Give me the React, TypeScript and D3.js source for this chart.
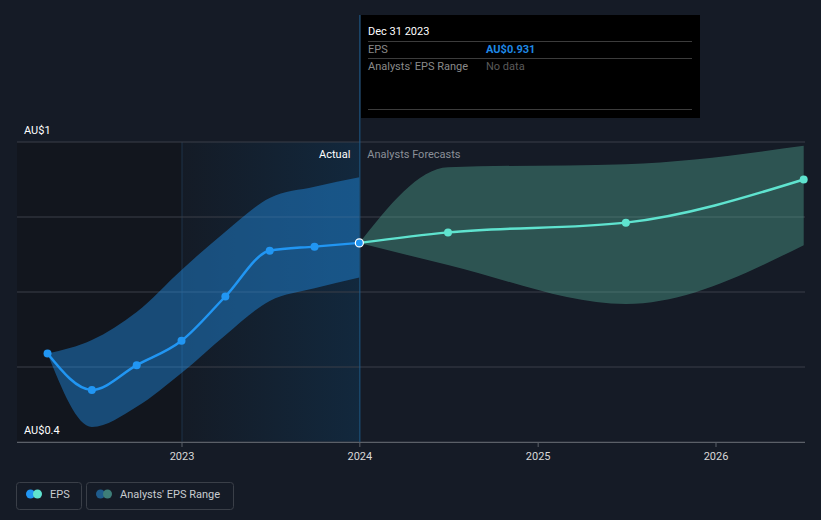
import React from 'react';
import * as d3 from 'd3';

// Reported EPS (half-year points, AUD)
const actualDates = ['2022-03-31', '2022-06-30', '2022-09-30', '2022-12-31', '2023-03-31', '2023-06-30', '2023-09-30', '2023-12-31'];
const actualEps = [0.636, 0.539, 0.605, 0.67, 0.788, 0.91, 0.921, 0.931];
const actualLow = [0.636, 0.44, 0.494, 0.584, 0.685, 0.776, 0.81, 0.839];
const actualHigh = [0.636, 0.672, 0.747, 0.859, 0.961, 1.051, 1.081, 1.106];

// Analyst forecasts
const forecastDates = ['2023-12-31', '2024-06-30', '2025-06-30', '2026-06-30'];
const forecastEps = [0.931, 0.959, 0.985, 1.1];
const forecastLow = [0.931, 0.872, 0.768, 0.925];
const forecastHigh = [0.931, 1.133, 1.141, 1.19];

const yearTicks = ['2023', '2024', '2025', '2026'];
const yTickValues = [1.2, 0.4];
const yTickLabels = ['AU$1', 'AU$0.4'];
const gridValues = [0.4, 0.6, 0.8, 1.0, 1.2];

const FONT = 'Roboto, "Noto Sans", sans-serif';

interface Pt { date: Date; v: number; lo: number; hi: number; }

function build(dates: string[], v: number[], lo: number[], hi: number[]): Pt[] {
  return dates.map((d, i) => ({ date: new Date(d + 'T00:00:00'), v: v[i], lo: lo[i], hi: hi[i] }));
}

export default function App() {
  const width = 821;
  const height = 520;
  const left = 17;
  const right = 805;
  const top = 142;
  const bottom = 442;

  const x = d3.scaleTime()
    .domain([new Date('2023-01-01T00:00:00'), new Date('2026-01-01T00:00:00')])
    .range([182, 716]);
  const y = d3.scaleLinear().domain([0.4, 1.2]).range([bottom, top]);

  const actual = build(actualDates, actualEps, actualLow, actualHigh);
  const forecast = build(forecastDates, forecastEps, forecastLow, forecastHigh);

  const line = d3.line<Pt>().x(d => x(d.date)).y(d => y(d.v)).curve(d3.curveMonotoneX);
  const band = d3.area<Pt>().x(d => x(d.date)).y0(d => y(d.lo)).y1(d => y(d.hi)).curve(d3.curveMonotoneX);

  const x2023 = x(new Date('2023-01-01T00:00:00'));
  const xNow = x(actual[actual.length - 1].date);
  const last = actual[actual.length - 1];

  return (
    <div style={{ position: 'fixed', left: 0, top: 0, width, height, background: '#151b26' }}>
      <svg width={width} height={height} style={{ display: 'block', fontFamily: FONT }}>
        <defs>
          <linearGradient id="pastGrad" x1="0" x2="1" y1="0" y2="0">
            <stop offset="0%" stopColor="#141b26" />
            <stop offset="100%" stopColor="#12283d" />
          </linearGradient>
        </defs>
        <rect x={0} y={0} width={width} height={height} fill="#151b26" />
        <rect x={left} y={top} width={x2023 - left} height={bottom - top} fill="#12161e" />
        <rect x={x2023} y={top} width={xNow - x2023} height={bottom - top} fill="url(#pastGrad)" />
        <line x1={x2023} x2={x2023} y1={top} y2={bottom} stroke="#1d3348" strokeWidth={1} />

        {gridValues.map(g => (
          <line key={g} x1={left} x2={right} y1={y(g)} y2={y(g)} stroke="#3a3f48" strokeWidth={1} />
        ))}

        <path d={band(actual) || ''} fill="rgba(33,150,243,0.42)" />
        <path d={band(forecast) || ''} fill="rgba(92,193,166,0.35)" />

        <line x1={xNow + 0.5} x2={xNow + 0.5} y1={15} y2={bottom} stroke="#1e5a8a" strokeWidth={1} />

        <path d={line(actual) || ''} fill="none" stroke="#2196f3" strokeWidth={2.5} />
        <path d={line(forecast) || ''} fill="none" stroke="#5fe3cf" strokeWidth={2.5} />

        {actual.slice(0, -1).map((d, i) => (
          <circle key={'a' + i} cx={x(d.date)} cy={y(d.v)} r={4} fill="#2196f3" />
        ))}
        {forecast.slice(1).map((d, i) => (
          <circle key={'f' + i} cx={x(d.date)} cy={y(d.v)} r={4} fill="#5fe3cf" />
        ))}
        <circle cx={x(last.date)} cy={y(last.v)} r={4} fill="#2196f3" stroke="#ffffff" strokeWidth={1.2} />

        <text x={xNow - 9} y={158} fill="#ffffff" fontSize={11} textAnchor="end">Actual</text>
        <text x={xNow + 8} y={158} fill="#8b9098" fontSize={11}>Analysts Forecasts</text>

        {/* y axis labels */}
        {yTickValues.map((v, i) => (
          <text key={v} x={24} y={y(v) - 8} fill="#ffffff" fontSize={11}>{yTickLabels[i]}</text>
        ))}

        {/* x axis */}
        <line x1={left} x2={right} y1={bottom + 0.5} y2={bottom + 0.5} stroke="#5b6068" strokeWidth={1} />
        {yearTicks.map(t => {
          const xx = x(new Date(t + '-01-01T00:00:00'));
          return (
            <g key={t}>
              <line x1={xx} x2={xx} y1={bottom} y2={bottom + 5} stroke="#5b6068" />
              <text x={xx} y={460} fill="#d8d8d8" fontSize={11} textAnchor="middle">{t}</text>
            </g>
          );
        })}

        {/* tooltip */}
        <rect x={361} y={15} width={339} height={103} fill="#000000" />
        <text x={368} y={35} fill="#ffffff" fontSize={11}>Dec 31 2023</text>
        <line x1={368} x2={692} y1={41.5} y2={41.5} stroke="#3c3c3c" />
        <text x={368} y={53} fill="#8a8a8a" fontSize={11}>EPS</text>
        <text x={486} y={53} fill="#1e88e5" fontSize={11} fontWeight="bold">AU${last.v.toFixed(3)}</text>
        <line x1={368} x2={692} y1={58.5} y2={58.5} stroke="#3c3c3c" />
        <text x={368} y={70} fill="#8a8a8a" fontSize={11}>Analysts' EPS Range</text>
        <text x={486} y={70} fill="#5a5a5a" fontSize={11}>No data</text>
        <line x1={368} x2={692} y1={109.5} y2={109.5} stroke="#3c3c3c" />

        {/* legend */}
        <rect x={16.5} y={482.5} width={65} height={27} rx={3} fill="none" stroke="#3a3f48" />
        <circle cx={30.5} cy={494} r={4.5} fill="#2196f3" />
        <circle cx={37.5} cy={494} r={4.5} fill="#5fe3cf" />
        <text x={50} y={498} fill="#c8ccd0" fontSize={11}>EPS</text>
        <rect x={86.5} y={482.5} width={147} height={27} rx={3} fill="none" stroke="#3a3f48" />
        <circle cx={100.5} cy={494} r={4.5} fill="#1f5c8c" />
        <circle cx={107.5} cy={494} r={4.5} fill="#3e7e78" />
        <text x={120} y={498} fill="#c8ccd0" fontSize={11}>Analysts' EPS Range</text>
      </svg>
    </div>
  );
}
